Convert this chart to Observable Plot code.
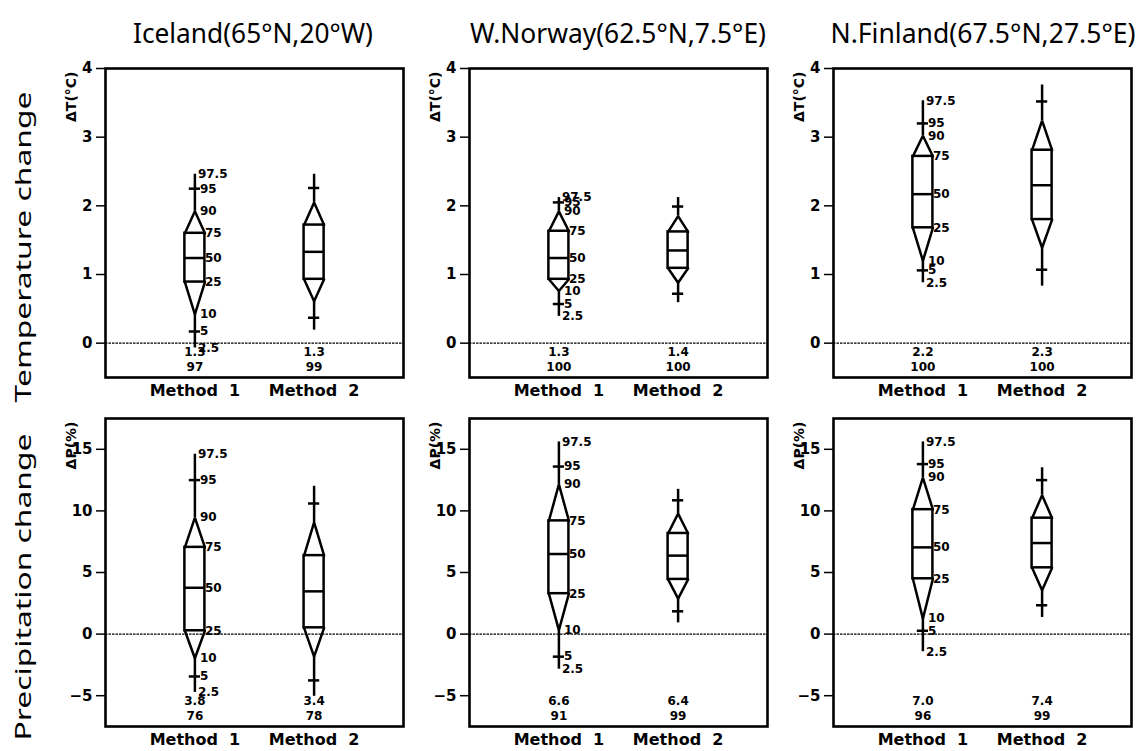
<!DOCTYPE html>
<html><head><meta charset="utf-8">
<script src="https://cdn.jsdelivr.net/npm/d3@7"></script>
<script src="https://cdn.jsdelivr.net/npm/@observablehq/plot@0.6"></script>
<style>
html,body{margin:0;padding:0;background:#fff;}
#fig{position:relative;width:1140px;height:751px;overflow:hidden;background:#fff;}
g[aria-label="pct"] text {letter-spacing:1.3px;}
g[aria-label="stat"] text {letter-spacing:0.8px;}
</style></head><body><div id="fig"></div>
<script>
// ---------- data ----------
const regions = ["Iceland(65°N,20°W)", "W.Norway(62.5°N,7.5°E)", "N.Finland(67.5°N,27.5°E)"];
const rowLabels = ["Temperature change", "Precipitation change"];
const methodLabels = ["Method\u00a0\u00a01", "Method\u00a0\u00a02"];
const percentiles = ["2.5", "5", "10", "25", "50", "75", "90", "95", "97.5"];
const tempTicks = [0, 1, 2, 3, 4];
const precTicks = [-5, 0, 5, 10, 15];

// percentiles 2.5,5,10,25,50,75,90,95,97.5
const tempIcelandM1 = [-0.07, 0.17, 0.42, 0.89, 1.24, 1.60, 1.92, 2.25, 2.46];
const tempIcelandM2 = [0.19, 0.37, 0.61, 0.93, 1.33, 1.72, 2.05, 2.26, 2.46];
const tempNorwayM1  = [0.39, 0.57, 0.76, 0.93, 1.24, 1.63, 1.92, 2.05, 2.12];
const tempNorwayM2  = [0.59, 0.72, 0.88, 1.09, 1.35, 1.62, 1.85, 1.99, 2.12];
const tempFinlandM1 = [0.88, 1.06, 1.20, 1.68, 2.17, 2.72, 3.02, 3.20, 3.53];
const tempFinlandM2 = [0.83, 1.07, 1.39, 1.80, 2.30, 2.81, 3.24, 3.52, 3.76];
const precIcelandM1 = [-4.73, -3.44, -1.96, 0.27, 3.76, 7.04, 9.46, 12.5, 14.6];
const precIcelandM2 = [-5.05, -3.76, -1.83, 0.51, 3.47, 6.37, 9.06, 10.6, 12.0];
const precNorwayM1  = [-2.85, -1.83, 0.32, 3.28, 6.5, 9.19, 12.15, 13.6, 15.6];
const precNorwayM2  = [0.91, 1.85, 2.88, 4.44, 6.37, 8.17, 9.78, 10.86, 11.75];
const precFinlandM1 = [-1.43, 0.27, 1.26, 4.49, 7.04, 10.1, 12.7, 13.8, 15.6];
const precFinlandM2 = [1.35, 2.34, 3.55, 5.38, 7.39, 9.41, 11.27, 12.5, 13.5];

// mean change and percentage of positive changes [Method 1, Method 2]
const tempMeans = [[1.3, 1.3], [1.3, 1.4], [2.2, 2.3]];
const tempPcts  = [[97, 99], [100, 100], [100, 100]];
const precMeans = [[3.8, 3.4], [6.6, 6.4], [7.0, 7.4]];
const precPcts  = [[76, 78], [91, 99], [96, 99]];

// ---------- drawing ----------
const fig = document.getElementById("fig");
const SW = 2.5, HW = 0.084, TW = 0.047;

function makePanel(v1, v2, means, pcts, domain, ticks, ylabel, fh) {
  const stats = [v1, v2].map((p, i) => ({x: i + 1, p, mean: means[i], pct: pcts[i]}));
  const tri = [];
  stats.forEach(s => {
    tri.push({id: s.x + "u", x: s.x - HW, y: s.p[5]}, {id: s.x + "u", x: s.x, y: s.p[6]}, {id: s.x + "u", x: s.x + HW, y: s.p[5]});
    tri.push({id: s.x + "l", x: s.x - HW, y: s.p[3]}, {id: s.x + "l", x: s.x, y: s.p[2]}, {id: s.x + "l", x: s.x + HW, y: s.p[3]});
  });
  const lab = percentiles.map((t, i) => ({x: 1, y: v1[i], t, k: i}));
  const grp = k => (k === 0 || k === 8) ? 0 : (k >= 3 && k <= 5) ? 2 : 1;
  const txt = {fontSize: 12, fontWeight: "bold", textAnchor: "start", ariaLabel: "pct"};
  return Plot.plot({
    width: 371, height: fh + 40,
    marginLeft: 65, marginRight: 8, marginTop: 10, marginBottom: 30,
    x: {domain: [0.25, 2.75]},
    y: {domain},
    style: {background: "transparent", fontFamily: "DejaVu Sans", fontWeight: "bold", overflow: "visible", color: "black"},
    marks: [
      Plot.ruleY([0], {strokeDasharray: "2.5,1", strokeWidth: 1.1}),
      Plot.ruleX(stats, {x: "x", y1: d => d.p[6], y2: d => d.p[8], strokeWidth: SW}),
      Plot.ruleX(stats, {x: "x", y1: d => d.p[0], y2: d => d.p[2], strokeWidth: SW}),
      Plot.ruleY(stats, {y: d => d.p[1], x1: d => d.x - TW, x2: d => d.x + TW, strokeWidth: SW}),
      Plot.ruleY(stats, {y: d => d.p[7], x1: d => d.x - TW, x2: d => d.x + TW, strokeWidth: SW}),
      Plot.rect(stats, {x1: d => d.x - HW, x2: d => d.x + HW, y1: d => d.p[3], y2: d => d.p[5], fill: "none", stroke: "black", strokeWidth: SW}),
      Plot.ruleY(stats, {y: d => d.p[4], x1: d => d.x - HW, x2: d => d.x + HW, strokeWidth: SW}),
      Plot.line(tri, {x: "x", y: "y", z: "id", stroke: "black", strokeWidth: SW, strokeLinejoin: "miter"}),
      Plot.text(lab.filter(d => grp(d.k) === 0), {x: "x", y: "y", text: "t", dx: 3, ...txt}),
      Plot.text(lab.filter(d => grp(d.k) === 1), {x: "x", y: "y", text: "t", dx: 5, ...txt}),
      Plot.text(lab.filter(d => grp(d.k) === 2), {x: "x", y: "y", text: "t", dx: 10, ...txt}),
      Plot.text(stats, {x: "x", text: d => d.mean.toFixed(1), frameAnchor: "bottom", dy: -22, fontSize: 12, fontWeight: "bold", ariaLabel: "stat"}),
      Plot.text(stats, {x: "x", text: d => String(d.pct), frameAnchor: "bottom", dy: -7, fontSize: 12, fontWeight: "bold", ariaLabel: "stat"}),
      Plot.text([ylabel], {frameAnchor: "top-left", rotate: -90, textAnchor: "end", dx: -39, dy: 3, fontSize: 14, fontWeight: "bold"}),
      Plot.axisY({ticks, tickFormat: d => d < 0 ? "\u2212" + Math.abs(d) : String(d), tickSize: 9, tickPadding: 4, fontSize: 15, fontWeight: "bold", strokeWidth: 1.5, label: null}),
      Plot.axisX({ticks: [1, 2], tickFormat: d => methodLabels[d - 1], tickSize: 0, tickPadding: 7, fontSize: 16, fontWeight: "bold", label: null}),
      Plot.frame({strokeWidth: 2.6})
    ]
  });
}

const lefts = [40, 404, 768];
const tempVals = [[tempIcelandM1, tempIcelandM2], [tempNorwayM1, tempNorwayM2], [tempFinlandM1, tempFinlandM2]];
const precVals = [[precIcelandM1, precIcelandM2], [precNorwayM1, precNorwayM2], [precFinlandM1, precFinlandM2]];

function place(el, left, top) {
  el.style.position = "absolute";
  el.style.left = left + "px";
  el.style.top = top + "px";
  fig.appendChild(el);
}

for (let c = 0; c < 3; c++) {
  place(makePanel(tempVals[c][0], tempVals[c][1], tempMeans[c], tempPcts[c], [-0.5, 4], tempTicks, "ΔT(°C)", 309), lefts[c], 58);
  place(makePanel(precVals[c][0], precVals[c][1], precMeans[c], precPcts[c], [-7.5, 17.5], precTicks, "ΔP(%)", 308), lefts[c], 408);
}

// titles and row labels
const NS = "http://www.w3.org/2000/svg";
const ov = document.createElementNS(NS, "svg");
ov.setAttribute("width", 1140); ov.setAttribute("height", 751);
ov.style.position = "absolute"; ov.style.left = "0"; ov.style.top = "0"; ov.style.pointerEvents = "none";
fig.appendChild(ov);
function addText(str, x, y, size, len, rot) {
  const t = document.createElementNS(NS, "text");
  t.textContent = str;
  t.setAttribute("x", 0); t.setAttribute("y", 0);
  t.setAttribute("transform", `translate(${x},${y})` + (rot ? ` rotate(${rot})` : ""));
  t.setAttribute("text-anchor", "middle");
  t.setAttribute("font-family", "Noto Sans");
  t.setAttribute("font-size", size);
  t.setAttribute("textLength", len);
  t.setAttribute("lengthAdjust", "spacingAndGlyphs");
  t.setAttribute("fill", "black");
  ov.appendChild(t);
}
const titleCenters = [253, 618, 983];
const titleLens = [240, 296, 305];
regions.forEach((r, i) => addText(r, titleCenters[i], 43, 27, titleLens[i], 0));
addText(rowLabels[0], 31, 247, 21, 311, -90);
addText(rowLabels[1], 31, 587, 21, 307, -90);
</script></body></html>
